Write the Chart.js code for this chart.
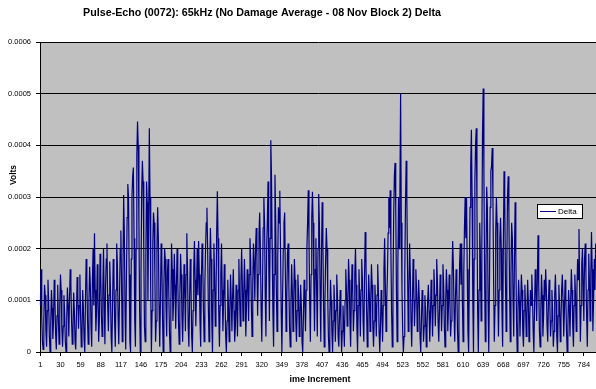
<!DOCTYPE html>
<html>
<head>
<meta charset="utf-8">
<script src="https://cdn.jsdelivr.net/npm/chart.js@4/dist/chart.umd.min.js"></script>
<style>
    html, body { margin: 0; padding: 0; background: #ffffff; }
    #wrap { width: 596px; height: 389px; }
</style>
</head>
<body>
<div id="wrap"><canvas id="chart" width="596" height="389"></canvas></div>
<script>
// values, in microvolts (converted to volts below)
const deltaMicroVolts = [
    90, 160, 70, 20, 5, 60, 130, 110, 40, 10, 80, 140, 95, 30, 0, 55, 120, 85, 25, 60,
    140, 100, 35, 5, 70, 130, 60, 15, 90, 150, 120, 45, 10, 50, 110, 75, 20, 0, 65, 125,
    90, 30, 100, 160, 130, 60, 15, 40, 115, 80, 20, 5, 70, 145, 110, 45, 90, 150, 70, 10,
    30, 120, 85, 25, 0, 100, 180, 140, 60, 15, 95, 165, 130, 50, 10, 140, 200, 90, 230, 120,
    40, 80, 170, 110, 20, 60, 190, 150, 70, 30, 120, 200, 100, 15, 130, 180, 210, 90, 40, 110,
    175, 120, 30, 0, 90, 180, 150, 60, 10, 120, 210, 170, 70, 15, 100, 200, 235, 130, 20, 150,
    304, 230, 80, 5, 140, 260, 325, 300, 150, 20, 0, 180, 300, 340, 357, 220, 60, 10, 200, 380,
    446, 400, 250, 80, 0, 150, 310, 370, 330, 200, 50, 20, 180, 330, 290, 100, 250, 433, 300, 120,
    0, 80, 210, 270, 250, 150, 20, 60, 200, 280, 220, 90, 10, 100, 210, 180, 70, 0, 130, 200,
    180, 90, 30, 150, 180, 120, 40, 0, 90, 210, 160, 60, 100, 190, 130, 45, 120, 200, 140, 60,
    15, 110, 190, 150, 70, 20, 90, 170, 120, 40, 150, 230, 160, 50, 10, 100, 180, 130, 30, 0,
    80, 160, 215, 140, 50, 120, 200, 110, 215, 150, 60, 10, 140, 210, 170, 80, 20, 130, 200, 250,
    279, 200, 90, 20, 160, 240, 180, 60, 0, 120, 210, 150, 50, 100, 230, 311, 220, 80, 10, 90,
    150, 210, 120, 40, 100, 170, 110, 30, 0, 60, 140, 90, 20, 80, 150, 100, 40, 110, 160, 80,
    20, 50, 130, 90, 30, 120, 180, 110, 50, 140, 200, 130, 60, 110, 180, 120, 30, 90, 160, 130,
    60, 150, 220, 180, 90, 30, 130, 210, 170, 100, 200, 240, 180, 70, 150, 230, 270, 200, 90, 20,
    120, 240, 300, 250, 110, 30, 200, 250, 330, 180, 60, 220, 410, 340, 200, 80, 10, 150, 343, 260,
    120, 40, 180, 280, 250, 312, 200, 80, 0, 110, 200, 250, 270, 150, 40, 100, 190, 210, 130, 50,
    10, 90, 170, 120, 40, 100, 180, 140, 60, 20, 80, 150, 110, 30, 60, 130, 90, 20, 0, 70,
    140, 100, 40, 120, 200, 250, 313, 220, 100, 20, 150, 260, 310, 250, 130, 40, 160, 220, 120, 30,
    200, 306, 250, 120, 20, 180, 290, 220, 90, 10, 100, 180, 240, 200, 110, 30, 0, 60, 140, 100,
    40, 0, 60, 130, 90, 20, 80, 150, 110, 30, 10, 70, 120, 60, 0, 40, 90, 50, 10, 100,
    160, 120, 50, 90, 180, 140, 60, 10, 100, 170, 120, 40, 80, 150, 200, 130, 50, 0, 90, 160,
    110, 30, 120, 180, 140, 60, 20, 140, 232, 190, 80, 10, 70, 150, 110, 40, 100, 170, 130, 50,
    10, 60, 130, 90, 30, 110, 170, 120, 40, 0, 50, 120, 80, 20, 90, 160, 220, 130, 40, 100,
    150, 230, 300, 240, 313, 200, 80, 10, 120, 260, 340, 366, 280, 120, 20, 160, 300, 200, 310, 500,
    250, 120, 40, 0, 30, 150, 280, 370, 300, 160, 40, 120, 210, 150, 60, 10, 90, 180, 130, 50,
    100, 160, 120, 40, 80, 140, 100, 30, 0, 60, 120, 90, 20, 50, 110, 80, 10, 40, 100, 130,
    80, 20, 70, 140, 100, 30, 90, 160, 120, 50, 110, 180, 140, 60, 20, 80, 150, 110, 40, 90,
    170, 130, 50, 10, 100, 160, 120, 40, 90, 150, 100, 30, 60, 140, 215, 170, 80, 20, 100, 160,
    120, 40, 0, 80, 170, 210, 130, 210, 100, 20, 150, 240, 300, 220, 300, 160, 40, 0, 140, 280,
    360, 430, 300, 100, 0, 180, 330, 400, 433, 280, 80, 0, 120, 250, 180, 60, 200, 420, 510, 350,
    150, 20, 160, 320, 280, 100, 0, 130, 280, 350, 360, 395, 300, 140, 20, 90, 230, 300, 250, 120,
    30, 120, 220, 260, 200, 80, 10, 200, 350, 300, 150, 40, 160, 300, 340, 270, 120, 20, 150, 250,
    220, 100, 30, 180, 290, 190, 60, 0, 80, 140, 100, 30, 90, 150, 120, 40, 10, 80, 130, 90,
    30, 70, 140, 100, 20, 60, 120, 90, 150, 110, 40, 0, 90, 160, 120, 60, 140, 226, 130, 40,
    10, 80, 150, 110, 30, 70, 140, 100, 160, 120, 50, 20, 100, 140, 90, 30, 60, 120, 80, 10,
    40, 110, 150, 100, 30, 0, 70, 130, 90, 20, 60, 120, 150, 100, 30, 80, 140, 110, 40, 0,
    50, 120, 90, 30, 100, 160, 120, 50, 10, 90, 150, 110, 40, 120, 180, 140, 238, 120, 20, 90,
    170, 200, 130, 60, 180, 210, 150, 70, 10, 120, 190, 140, 60, 150, 232, 160, 40, 100, 180, 120, 210
];

// labelled categories on the time axis
const xTickLabels = [1, 30, 59, 88, 117, 146, 175, 204, 233, 262, 291, 320, 349, 378,
    407, 436, 465, 494, 523, 552, 581, 610, 639, 668, 697, 726, 755, 784];

const yTicks = [0, 0.0001, 0.0002, 0.0003, 0.0004, 0.0005, 0.0006];

const chartTitle = 'Pulse-Echo (0072): 65kHz (No Damage Average - 08 Nov Block 2) Delta';
const xTitle = 'ime Increment';
const yTitle = 'Volts';
const seriesName = 'Delta';

const deltaVolts = deltaMicroVolts.map(v => v / 1e6);
const categories = deltaVolts.map((_, i) => i + 1);

const FONT = 'Arial, "Liberation Sans", sans-serif';
const NAVY = '#000080';

// gray plot background + titles + floating legend, Excel style
const excelDecor = {
    id: 'excelDecor',
    beforeDraw(chart) {
        const { ctx, chartArea: a } = chart;
        ctx.save();
        ctx.fillStyle = '#c0c0c0';
        ctx.fillRect(a.left, a.top, a.right - a.left, a.bottom - a.top);
        ctx.restore();
    },
    afterDraw(chart) {
        const { ctx } = chart;
        ctx.save();
        ctx.fillStyle = '#000';
        ctx.textAlign = 'center';
        ctx.textBaseline = 'middle';

        ctx.font = 'bold 10.7px ' + FONT;
        ctx.fillText(chartTitle, 262, 13);

        ctx.font = 'bold 9px ' + FONT;
        ctx.fillText(xTitle, 320, 380);

        ctx.font = 'bold 8.5px ' + FONT;
        ctx.translate(14, 175);
        ctx.rotate(-Math.PI / 2);
        ctx.fillText(yTitle, 0, 0);
        ctx.restore();

        // legend box
        ctx.save();
        ctx.fillStyle = '#ffffff';
        ctx.strokeStyle = '#000';
        ctx.lineWidth = 1;
        ctx.fillRect(537.5, 204.5, 45, 14);
        ctx.strokeRect(537.5, 204.5, 45, 14);
        ctx.strokeStyle = NAVY;
        ctx.beginPath();
        ctx.moveTo(540, 211.5);
        ctx.lineTo(556, 211.5);
        ctx.stroke();
        ctx.fillStyle = '#000';
        ctx.font = '8px ' + FONT;
        ctx.textBaseline = 'middle';
        ctx.fillText(seriesName, 558, 212);
        ctx.restore();
    }
};

new Chart(document.getElementById('chart'), {
    type: 'line',
    data: {
        labels: categories,
        datasets: [{
            label: seriesName,
            data: deltaVolts,
            borderColor: NAVY,
            borderWidth: 1.2,
            pointRadius: 0,
            tension: 0,
            fill: false
        }]
    },
    options: {
        responsive: false,
        animation: false,
        layout: { padding: { top: 42, left: 0, right: 0, bottom: 0 } },
        plugins: {
            legend: { display: false },
            title: { display: false },
            tooltip: { enabled: false }
        },
        scales: {
            x: {
                type: 'category',
                offset: true,
                afterFit(axis) { axis.height = 37; },
                afterBuildTicks(axis) {
                    axis.ticks = xTickLabels.map(l => ({ value: l - 1 }));
                },
                border: { color: '#000', width: 1 },
                grid: {
                    drawOnChartArea: false,
                    drawTicks: true,
                    tickLength: 4,
                    tickColor: '#000',
                    offset: false
                },
                ticks: {
                    autoSkip: false,
                    maxRotation: 0,
                    minRotation: 0,
                    padding: 4,
                    color: '#000',
                    font: { family: FONT, size: 7.5 },
                    callback(value) { return String(categories[value]); }
                }
            },
            y: {
                min: 0,
                max: 0.0006,
                afterFit(axis) { axis.width = 40; },
                afterBuildTicks(axis) {
                    axis.ticks = yTicks.map(v => ({ value: v }));
                },
                border: { color: '#000', width: 1 },
                grid: {
                    color: '#000',
                    lineWidth: 1,
                    drawTicks: true,
                    tickLength: 4,
                    tickColor: '#000'
                },
                ticks: {
                    padding: 5,
                    color: '#000',
                    font: { family: FONT, size: 7.5 },
                    callback(value) { return value === 0 ? '0' : value.toFixed(4); }
                }
            }
        }
    },
    plugins: [excelDecor]
});
</script>
</body>
</html>
